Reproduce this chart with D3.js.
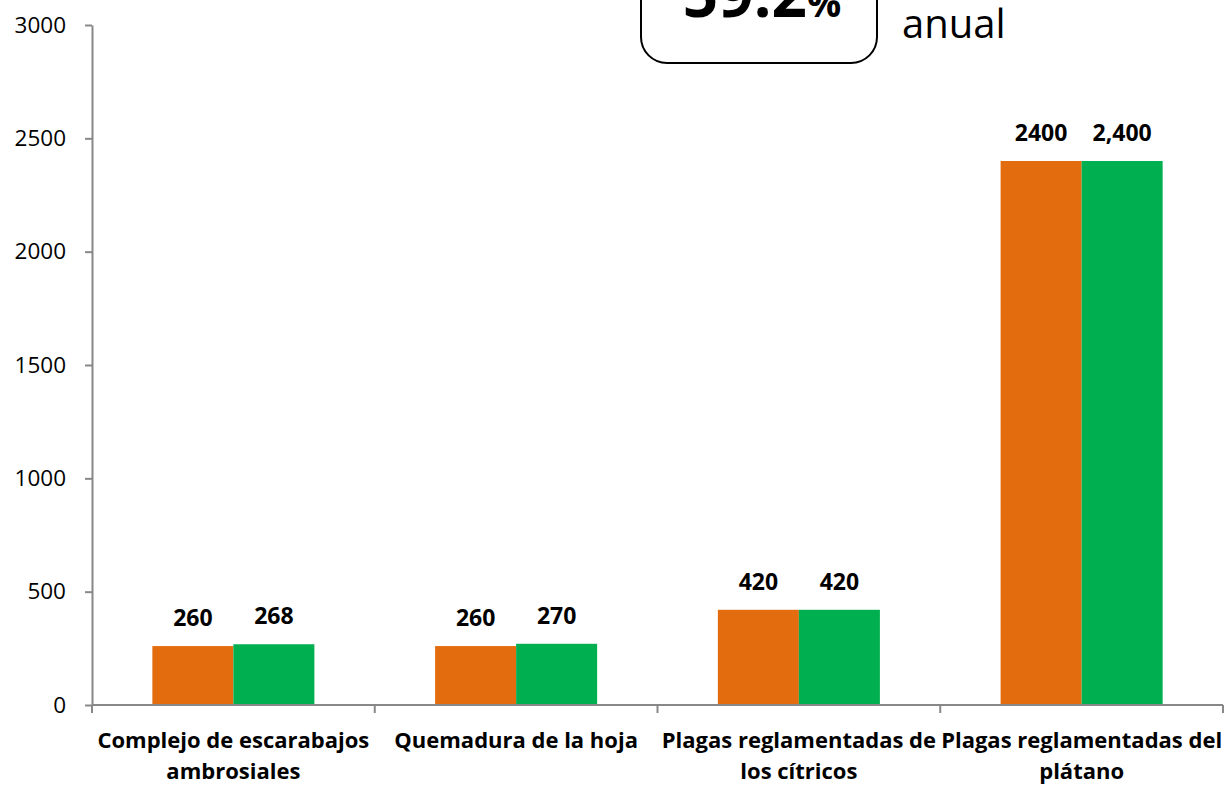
<!DOCTYPE html>
<html>
<head>
<meta charset="utf-8">
<script src="https://cdn.jsdelivr.net/npm/d3@7"></script>
<style>
  html, body { margin: 0; padding: 0; background: #fff; }
  svg { display: block; font-family: "Open Sans", "Noto Sans", sans-serif; }
</style>
</head>
<body>
<div id="chart"></div>
<script>
// 数据
const categories = [
    "Complejo de escarabajos\nambrosiales",
    "Quemadura de la hoja",
    "Plagas reglamentadas de\nlos cítricos",
    "Plagas reglamentadas del\nplátano"
];
const seriesNames = ["anterior", "actual"];
const valuesA = [260, 260, 420, 2400];
const valuesB = [268, 270, 420, 2400];
const labelsA = ["260", "260", "420", "2400"];
const labelsB = ["268", "270", "420", "2,400"];
const yTicks = [0, 500, 1000, 1500, 2000, 2500, 3000];
const calloutValue = "59.2";
const calloutUnit = "%";
const calloutText = "anual";

const width = 1227, height = 786;
const plot = { left: 92, right: 1223, top: 25, bottom: 705 };
const colors = ["#E36C0E", "#00B050"];

const svg = d3.select("#chart").append("svg")
    .attr("width", width)
    .attr("height", height);

// 比例尺
const x = d3.scaleBand()
    .domain(categories)
    .range([plot.left, plot.right])
    .padding(0);

const xInner = d3.scaleBand()
    .domain(seriesNames)
    .range([0, x.bandwidth()])
    .paddingInner(0)
    .paddingOuter(0.745);

const y = d3.scaleLinear()
    .domain([0, 3000])
    .range([plot.bottom, plot.top]);

// y 轴
const yAxis = svg.append("g")
    .attr("transform", `translate(${plot.left},0)`)
    .call(d3.axisLeft(y).tickValues(yTicks).tickFormat(d3.format("d"))
        .tickSize(7).tickSizeOuter(0).tickPadding(19));
yAxis.select(".domain").attr("stroke", "#888").attr("stroke-width", 2);
yAxis.selectAll(".tick line").attr("stroke", "#888").attr("stroke-width", 2);
yAxis.selectAll(".tick text")
    .attr("fill", "#000")
    .style("font-size", "22.5px")
    .style("font-family", "'Open Sans', sans-serif");

// 柱子
const rows = categories.map((c, i) => ({
    cat: c,
    items: [
        { s: seriesNames[0], v: valuesA[i], label: labelsA[i] },
        { s: seriesNames[1], v: valuesB[i], label: labelsB[i] }
    ]
}));

const groups = svg.append("g").selectAll("g")
    .data(rows)
    .join("g")
    .attr("transform", d => `translate(${x(d.cat)},0)`);

groups.selectAll("rect")
    .data(d => d.items)
    .join("rect")
    .attr("x", d => xInner(d.s))
    .attr("y", d => y(d.v))
    .attr("width", xInner.bandwidth())
    .attr("height", d => y(0) - y(d.v))
    .attr("fill", (d, i) => colors[i]);

groups.selectAll("text.val")
    .data(d => d.items)
    .join("text")
    .attr("class", "val")
    .attr("x", d => xInner(d.s) + xInner.bandwidth() / 2)
    .attr("y", d => y(d.v) - 20)
    .attr("text-anchor", "middle")
    .style("font-size", "23px")
    .style("font-weight", "bold")
    .text(d => d.label);

// x 轴
const xAxis = svg.append("g");
xAxis.append("line")
    .attr("x1", plot.left).attr("x2", plot.right)
    .attr("y1", plot.bottom).attr("y2", plot.bottom)
    .attr("stroke", "#888").attr("stroke-width", 2);
const bounds = categories.map(c => x(c)).concat([x.range()[1]]);
xAxis.selectAll("line.tick")
    .data(bounds)
    .join("line")
    .attr("class", "tick")
    .attr("x1", d => d).attr("x2", d => d)
    .attr("y1", plot.bottom).attr("y2", plot.bottom + 8)
    .attr("stroke", "#888").attr("stroke-width", 2);

xAxis.selectAll("text.cat")
    .data(categories)
    .join("text")
    .attr("class", "cat")
    .attr("text-anchor", "middle")
    .style("font-size", "22px")
    .style("font-weight", "bold")
    .each(function (d) {
        const t = d3.select(this);
        d.split("\n").forEach((line, i) => {
            t.append("tspan")
                .attr("x", x(d) + x.bandwidth() / 2)
                .attr("y", 748 + i * 31)
                .text(line);
        });
    });

// 标注框
const callout = svg.append("g");
callout.append("rect")
    .attr("x", 641).attr("y", -40)
    .attr("width", 236).attr("height", 103)
    .attr("rx", 26).attr("ry", 26)
    .attr("fill", "#fff")
    .attr("stroke", "#000").attr("stroke-width", 2);
const cv = callout.append("text")
    .attr("x", 762).attr("y", 17)
    .attr("text-anchor", "middle")
    .style("font-weight", "bold");
cv.append("tspan").style("font-size", "62px").text(calloutValue);
cv.append("tspan").style("font-size", "38px").text(calloutUnit);
callout.append("text")
    .attr("x", 902).attr("y", 38)
    .style("font-size", "40px")
    .text(calloutText);
</script>
</body>
</html>
